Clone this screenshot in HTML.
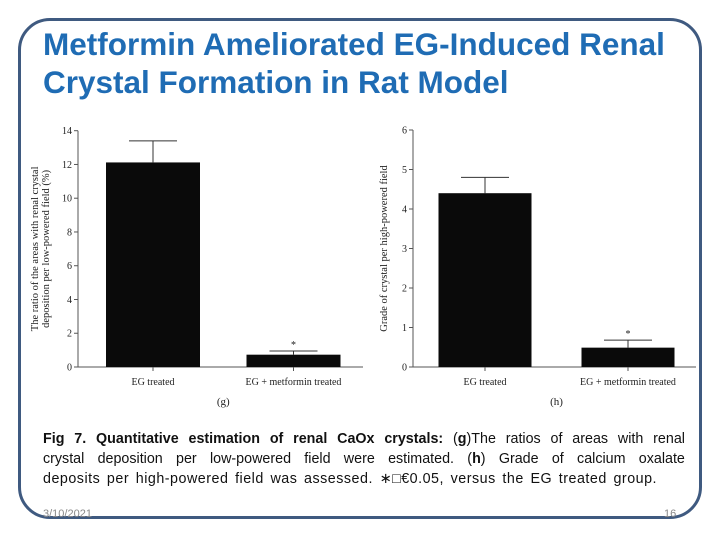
<!DOCTYPE html>
<html><head><meta charset="utf-8"><style>
body{margin:0;width:720px;height:540px;background:#fff;overflow:hidden;font-family:"Liberation Sans",sans-serif;position:relative}
#frame{position:absolute;left:18px;top:18px;width:684px;height:501px;border:3px solid #3f5a80;border-radius:32px;box-sizing:border-box}
#title{position:absolute;left:43px;top:25px;font-size:31.5px;font-weight:bold;color:#1f6cb4;line-height:38px;margin:0;white-space:nowrap}
#cap{position:absolute;left:43px;top:429px;width:642px;font-size:14.3px;line-height:20px;color:#111}
#cap div{white-space:nowrap;display:flex;justify-content:space-between}
#cap div.last{display:block;letter-spacing:0.5px;word-spacing:2.2px}
#date{position:absolute;left:43px;top:508px;font-size:11px;color:#888}
#pg{position:absolute;left:664px;top:508px;font-size:11px;color:#888}
svg{position:absolute;left:0;top:0}
svg text{font-family:"Liberation Serif",serif;fill:#222}
</style></head><body>
<div id="frame"></div>
<h1 id="title">Metformin Ameliorated EG-Induced Renal<br>Crystal Formation in Rat Model</h1>
<svg id="chart" width="720" height="540"></svg>
<div id="cap">
<div><b>Fig</b> <b>7.</b> <b>Quantitative</b> <b>estimation</b> <b>of</b> <b>renal</b> <b>CaOx</b> <b>crystals:</b> <span>(<b>g</b>)The</span> <span>ratios</span> <span>of</span> <span>areas</span> <span>with</span> <span>renal</span></div>
<div><span>crystal</span> <span>deposition</span> <span>per</span> <span>low-powered</span> <span>field</span> <span>were</span> <span>estimated.</span> <span>(<b>h</b>)</span> <span>Grade</span> <span>of</span> <span>calcium</span> <span>oxalate</span></div>
<div class="last">deposits per high-powered field was assessed. ∗□€0.05, versus the EG treated group.</div>
</div>
<div id="date">3/10/2021</div>
<div id="pg">16</div>
<script>
const categories=["EG treated","EG + metformin treated"];
const gValues=[12.12,0.73];
const gErrors=[1.28,0.22];
const gTicks=[0,2,4,6,8,10,12,14];
const hValues=[4.40,0.49];
const hErrors=[0.40,0.19];
const hTicks=[0,1,2,3,4,5,6];
const svg=document.getElementById('chart');
const NS='http://www.w3.org/2000/svg';
function mk(t,a,p){const e=document.createElementNS(NS,t);for(const k in a)e.setAttribute(k,a[k]);(p||svg).appendChild(e);return e;}
function panel(cfg){
  const g=mk('g',{});
  
  
  const y=v=>cfg.y0-(v-0)/cfg.max*(cfg.y0-cfg.yTop);
  const ax=mk('line',{x1:cfg.ax,y1:cfg.yTop,x2:cfg.ax,y2:cfg.y0,stroke:'#555','stroke-width':1},g);
  
  
  const xa=mk('line',{x1:cfg.ax,y1:cfg.y0,x2:cfg.axEnd,y2:cfg.y0,stroke:'#555','stroke-width':1},g);
  
  
  cfg.ticks.forEach(t=>{
    mk('line',{x1:cfg.ax-4,y1:y(t),x2:cfg.ax,y2:y(t),stroke:'#555'},g);
    const tx=mk('text',{x:cfg.ax-6,y:y(t)+3.5,'font-size':10,'text-anchor':'end'},g);
    
    
    tx.textContent=t;
  });
  categories.forEach((c,i)=>{
    const cx=cfg.cx[i];
    const v=cfg.vals[i],e=cfg.errs[i];
    mk('line',{x1:cx,y1:y(v),x2:cx,y2:y(v+e),stroke:'#333'},g);
    mk('line',{x1:cx-24,y1:y(v+e),x2:cx+24,y2:y(v+e),stroke:'#333'},g);
    const b=mk('rect',{x:cx-cfg.bw/2,y:y(v),width:cfg.bw,height:cfg.y0-y(v),fill:'#0a0a0a'},g);
    
    
    mk('line',{x1:cx,y1:cfg.y0,x2:cx,y2:cfg.y0+4,stroke:'#555'},g);
    const l=mk('text',{x:cx,y:cfg.y0+18,'font-size':10,'text-anchor':'middle'},g);
    
    
    l.textContent=c;
    if(i===1){const s=mk('text',{x:cx,y:y(v+e)-3,'font-size':10,'text-anchor':'middle'},g);
      
      
      s.textContent='*';}
  });
  const pl=mk('text',{x:(cfg.cx[0]+cfg.cx[1])/2,y:cfg.y0+38,'font-size':11,'text-anchor':'middle'},g);
  
  
  pl.textContent=cfg.label;
  const mid=(cfg.y0+cfg.yTop)/2;
  cfg.title.forEach((ln,k)=>{
    const tx=mk('text',{x:cfg.tx+k*11,y:mid,'font-size':10.5,'text-anchor':'middle',transform:`rotate(-90 ${cfg.tx+k*11} ${mid})`},g);
    
    
    tx.textContent=ln;
  });
}
panel({name:'chart-g',ax:78,axEnd:363,y0:367,yTop:130.7,max:14,ticks:gTicks,vals:gValues,errs:gErrors,cx:[153,293.5],bw:94,label:'(g)',tx:38,title:['The ratio of the areas with renal crystal','deposition per low-powered field (%)']});
panel({name:'chart-h',ax:413,axEnd:696,y0:367,yTop:130,max:6,ticks:hTicks,vals:hValues,errs:hErrors,cx:[485,628],bw:93,label:'(h)',tx:387,title:['Grade of crystal per high-powered field']});
</script>
</body></html>
